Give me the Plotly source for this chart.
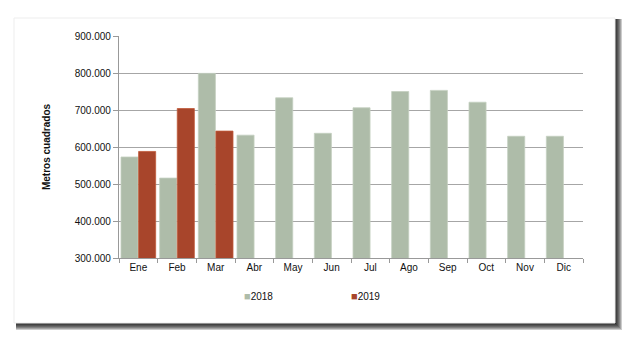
import plotly.graph_objects as go

months = ["Ene", "Feb", "Mar", "Abr", "May", "Jun", "Jul", "Ago", "Sep", "Oct", "Nov", "Dic"]
values_2018 = [573000, 516000, 799000, 632000, 733000, 637000, 706000, 750000, 753000, 721000, 629000, 629000]
values_2019 = [588000, 704000, 643000, None, None, None, None, None, None, None, None, None]
tick_vals = [300000, 400000, 500000, 600000, 700000, 800000, 900000]
tick_text = ["300.000", "400.000", "500.000", "600.000", "700.000", "800.000", "900.000"]
series_names = ["2018", "2019"]
series_colors = ["#AEBCA9", "#A8452B"]

W, H = 630, 340
L, R, T, B = 119, 47, 36, 82
pw, ph = W - L - R, H - T - B

def px(x):
    return (x - L) / pw

def py(y):
    return (H - B - y) / ph

FONT = "Liberation Sans, Arial, Helvetica, sans-serif"

fig = go.Figure()
fig.add_trace(go.Bar(name=series_names[0], x=months, y=values_2018,
                     marker=dict(color=series_colors[0], line=dict(color="#C4CFC0", width=0.8))))
fig.add_trace(go.Bar(name=series_names[1], x=months, y=values_2019,
                     marker=dict(color=series_colors[1], line=dict(color="#C05A3A", width=0.8))))

shapes = []
fx0, fy0, fx1, fy1 = 14, 18, 615, 323
for k in range(1, 8):
    shapes.append(dict(type="rect", xref="paper", yref="paper", layer="below",
                       x0=px(fx0 + 2), x1=px(fx1 + k), y0=py(fy0 + 1), y1=py(fy1 + k),
                       fillcolor="rgba(0,0,0,0.2)", line=dict(width=0)))
shapes.append(dict(type="rect", xref="paper", yref="paper", layer="below",
                   x0=px(fx0), x1=px(fx1), y0=py(fy0), y1=py(fy1),
                   fillcolor="white", line=dict(color="#EDEDED", width=1)))

# legend drawn as annotations for exact symbol size/placement
annotations = []
legend_x = [242, 349]
for name, col, lx in zip(series_names, series_colors, legend_x):
    annotations.append(dict(
        xref="paper", yref="paper", x=px(lx), y=py(296), xanchor="left", yanchor="middle",
        showarrow=False,
        text=f"<span style='color:{col};font-size:11px'>■</span>{name}",
        font=dict(family=FONT, size=10, color="#111")))

fig.update_layout(
    width=W, height=H,
    margin=dict(l=L, r=R, t=T, b=B, pad=0),
    paper_bgcolor="white", plot_bgcolor="rgba(0,0,0,0)",
    barmode="group", bargap=0.09, bargroupgap=0.03,
    font=dict(family=FONT, size=10, color="#111"),
    shapes=shapes,
    annotations=annotations,
    showlegend=False,
    xaxis=dict(showgrid=False, showline=True, linecolor="#999", linewidth=1.2,
               ticks="outside", tickson="boundaries", ticklen=4, tickcolor="#999",
               tickfont=dict(size=10, color="#111")),
    yaxis=dict(range=[300000, 900000], tickvals=tick_vals, ticktext=tick_text,
               showgrid=True, gridcolor="#A6A6A6", gridwidth=1.3,
               showline=True, linecolor="#999", linewidth=1.2,
               ticks="outside", ticklen=5, tickcolor="#999",
               tickfont=dict(size=10, color="#111"),
               title=dict(text="<b>Metros cuadrados</b>", font=dict(size=10, color="#111"),
                          standoff=22)),
)

fig.write_html("out.html")
